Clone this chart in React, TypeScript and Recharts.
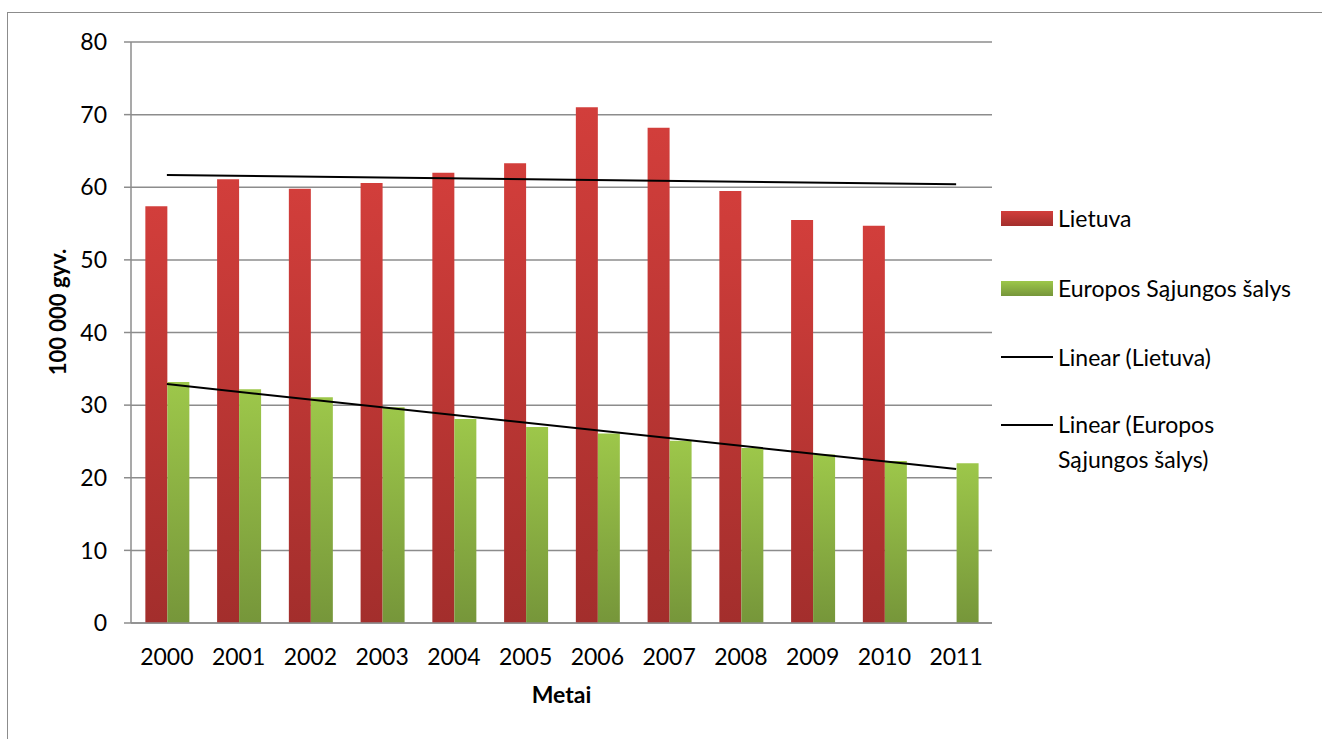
import { Bar, CartesianGrid, ComposedChart, Label, Line, XAxis, YAxis } from "recharts";

const years = ["2000", "2001", "2002", "2003", "2004", "2005", "2006", "2007", "2008", "2009", "2010", "2011"];
const lietuva = [57.4, 61.1, 59.8, 60.6, 62.0, 63.3, 71.0, 68.2, 59.5, 55.5, 54.7, null];
const esSalys = [33.2, 32.2, 31.1, 29.7, 28.1, 27.0, 26.1, 25.1, 24.1, 23.2, 22.3, 22.0];
// trendline endpoints
const trendLietuva = [61.7, null, null, null, null, null, null, null, null, null, null, 60.4];
const trendEs = [32.9, null, null, null, null, null, null, null, null, null, null, 21.2];
const yTicks = [0, 10, 20, 30, 40, 50, 60, 70, 80];

const FONT = "Lato, 'Open Sans', sans-serif";
const GRID = "#8c8c8c";

const data = years.map((year, i) => ({
  year,
  lietuva: lietuva[i],
  es: esSalys[i],
  trendLt: trendLietuva[i],
  trendEs: trendEs[i],
}));

const XTick = ({ x, y, payload }: any) => (
  <text x={x} y={y + 34} textAnchor="middle" fontFamily={FONT} fontSize={23} fill="#000">
    {payload.value}
  </text>
);

const YLabel = () => (
  <text
    x={57}
    y={312}
    transform="rotate(-90, 57, 312)"
    textAnchor="middle"
    dominantBaseline="central"
    fontFamily={FONT}
    fontSize={22}
    fontWeight="bold"
    fill="#000"
  >
    100 000 gyv.
  </text>
);

const swatch = (from: string, to: string) => ({
  width: 52,
  height: 15,
  background: `linear-gradient(to bottom, ${from}, ${to})`,
  flex: "none" as const,
});

const lineMark = { width: 52, height: 2, background: "#000", flex: "none" as const };

const legendText = { marginLeft: 5, lineHeight: "35px" };

export default function App() {
  return (
    <div
      style={{
        position: "fixed",
        left: 0,
        top: 0,
        width: 1322,
        height: 739,
        overflow: "hidden",
        background: "#fff",
        fontFamily: FONT,
      }}
    >
      <div
        style={{
          position: "absolute",
          left: 7,
          top: 12,
          width: 1400,
          height: 800,
          borderLeft: "1.5px solid #8c8c8c",
          borderTop: "1.5px solid #8c8c8c",
        }}
      />
      <div style={{ position: "absolute", left: 0, top: 0 }}>
        <ComposedChart
          width={1322}
          height={739}
          data={data}
          margin={{ top: 42, right: 330, bottom: 36, left: 0 }}
          barCategoryGap="20%"
          barGap={0}
        >
          <defs>
            <linearGradient id="red-grad" x1="0" y1="0" x2="0" y2="1">
              <stop offset="0%" stopColor="#d23e3b" />
              <stop offset="100%" stopColor="#a32e2c" />
            </linearGradient>
            <linearGradient id="green-grad" x1="0" y1="0" x2="0" y2="1">
              <stop offset="0%" stopColor="#9dc74a" />
              <stop offset="100%" stopColor="#76963a" />
            </linearGradient>
          </defs>
          <CartesianGrid vertical={false} stroke={GRID} strokeWidth={1.5} />
          <XAxis
            dataKey="year"
            height={80}
            tickLine={false}
            axisLine={{ stroke: GRID, strokeWidth: 1.5 }}
            tick={<XTick />}
            interval={0}
          >
            <Label
              value="Metai"
              position="insideBottom"
              offset={0}
              fontFamily={FONT}
              fontSize={23}
              fontWeight="bold"
              fill="#000"
            />
          </XAxis>
          <YAxis
            width={131}
            domain={[0, 80]}
            ticks={yTicks}
            tickSize={7}
            tickMargin={17}
            tickLine={{ stroke: GRID, strokeWidth: 1.5 }}
            axisLine={{ stroke: GRID, strokeWidth: 1.5 }}
            tick={{ fontFamily: FONT, fontSize: 23, fill: "#000" }}
          >
            <Label content={<YLabel />} />
          </YAxis>
          <Bar dataKey="lietuva" fill="url(#red-grad)" isAnimationActive={false} />
          <Bar dataKey="es" fill="url(#green-grad)" isAnimationActive={false} />
          <Line
            dataKey="trendLt"
            type="linear"
            stroke="#000"
            strokeWidth={2}
            dot={false}
            activeDot={false}
            connectNulls
            isAnimationActive={false}
          />
          <Line
            dataKey="trendEs"
            type="linear"
            stroke="#000"
            strokeWidth={2}
            dot={false}
            activeDot={false}
            connectNulls
            isAnimationActive={false}
          />
        </ComposedChart>
      </div>
      <div
        style={{
          position: "absolute",
          left: 1001,
          top: 200,
          width: 321,
          fontSize: 23,
          color: "#000",
        }}
      >
        <div style={{ display: "flex", alignItems: "center", height: 36 }}>
          <div style={swatch("#d23e3b", "#a32e2c")} />
          <span style={legendText}>Lietuva</span>
        </div>
        <div style={{ display: "flex", alignItems: "center", height: 36, marginTop: 34 }}>
          <div style={swatch("#9dc74a", "#76963a")} />
          <span style={legendText}>Europos Sąjungos šalys</span>
        </div>
        <div style={{ display: "flex", alignItems: "center", height: 36, marginTop: 33 }}>
          <div style={lineMark} />
          <span style={legendText}>Linear (Lietuva)</span>
        </div>
        <div style={{ display: "flex", alignItems: "flex-start", marginTop: 32 }}>
          <div style={{ ...lineMark, marginTop: 17 }} />
          <span style={legendText}>
            Linear (Europos
            <br />
            Sąjungos šalys)
          </span>
        </div>
      </div>
    </div>
  );
}
